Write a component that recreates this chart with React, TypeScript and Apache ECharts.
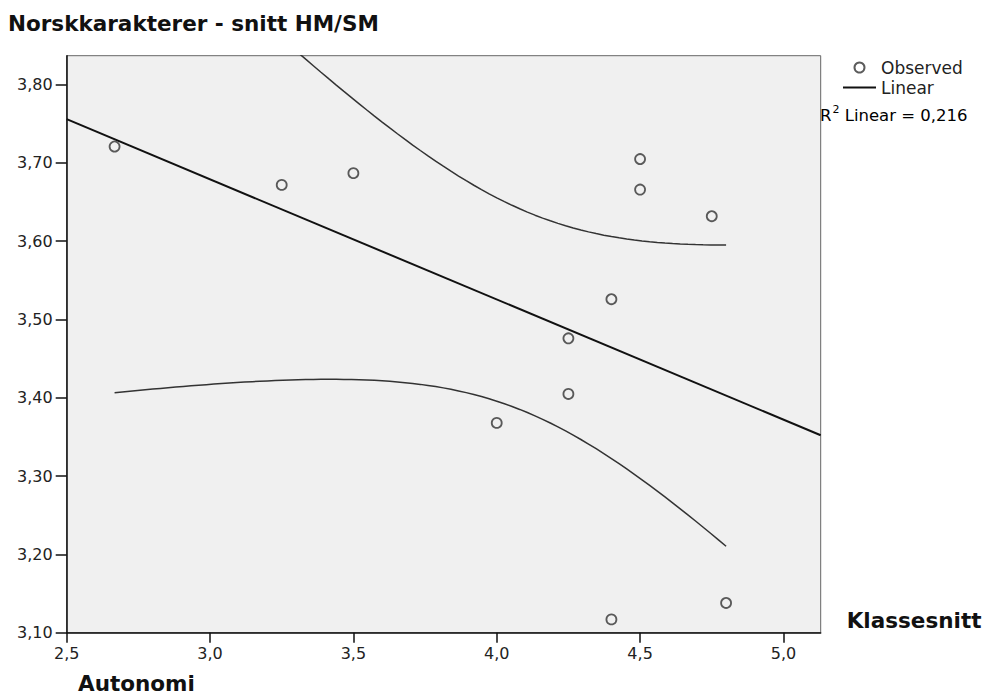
import { useEffect, useRef } from 'react';
import * as echarts from 'echarts';

// Klassesnitt: autonomi (x) mot norskkarakter, snitt HM/SM (y)
const autonomi = [2.667, 3.25, 3.5, 4.5, 4.5, 4.75, 4.4, 4.25, 4.25, 4.0, 4.4, 4.8];
const norskSnitt = [3.721, 3.672, 3.687, 3.705, 3.666, 3.632, 3.526, 3.476, 3.405, 3.368, 3.117, 3.138];

const xTicks = [2.5, 3.0, 3.5, 4.0, 4.5, 5.0];
const yTicks = [3.1, 3.2, 3.3, 3.4, 3.5, 3.6, 3.7, 3.8];
const xRange = [2.5, 5.13];
const yRange = [3.1, 3.837];

const rSquaredLinear = 0.216;
const tCrit = 2.228; // t(0.975) with n - 2 = 10 degrees of freedom
const bandSteps = 80;

const FONT = '"DejaVu Sans", Verdana, sans-serif';

const comma = (v: number, d: number) => v.toFixed(d).replace('.', ',');

// Least-squares fit and 95% confidence band for the mean
function linearFit(xs: number[], ys: number[]) {
  const n = xs.length;
  const mx = xs.reduce((a, b) => a + b, 0) / n;
  const my = ys.reduce((a, b) => a + b, 0) / n;
  let sxx = 0;
  let sxy = 0;
  for (let i = 0; i < n; i++) {
    sxx += (xs[i] - mx) ** 2;
    sxy += (xs[i] - mx) * (ys[i] - my);
  }
  const slope = sxy / sxx;
  const intercept = my - slope * mx;
  let sse = 0;
  for (let i = 0; i < n; i++) sse += (ys[i] - (intercept + slope * xs[i])) ** 2;
  const s = Math.sqrt(sse / (n - 2));
  const predict = (x: number) => intercept + slope * x;
  const halfWidth = (x: number) => tCrit * s * Math.sqrt(1 / n + (x - mx) ** 2 / sxx);
  return { predict, halfWidth };
}

export default function App() {
  const ref = useRef<HTMLDivElement>(null);

  useEffect(() => {
    if (!ref.current) return;
    const chart = echarts.init(ref.current, undefined, { renderer: 'svg' });
    const fit = linearFit(autonomi, norskSnitt);

    const fitLine = xRange.map((x) => [x, fit.predict(x)]);
    const xMin = Math.min(...autonomi);
    const xMax = Math.max(...autonomi);
    const upper: number[][] = [];
    const lower: number[][] = [];
    for (let i = 0; i <= bandSteps; i++) {
      const x = xMin + ((xMax - xMin) * i) / bandSteps;
      const y = fit.predict(x);
      const h = fit.halfWidth(x);
      upper.push([x, y + h]);
      lower.push([x, y - h]);
    }

    const bandStyle = { color: '#333', width: 1.5 };

    chart.setOption({
      animation: false,
      backgroundColor: '#fff',
      title: {
        text: 'Norskkarakterer - snitt HM/SM',
        left: 3,
        top: 7,
        textStyle: { fontFamily: FONT, fontWeight: 'bold', fontSize: 21.5, color: '#111' },
      },
      legend: {
        orient: 'vertical',
        left: 842,
        top: 59,
        padding: 0,
        itemWidth: 33,
        itemHeight: 10,
        itemGap: 3,
        textStyle: { fontFamily: FONT, fontSize: 17, color: '#222' },
        data: [
          { name: 'Observed', icon: 'circle' },
          { name: 'Linear', itemStyle: { color: 'rgba(0,0,0,0)', borderWidth: 0 } },
        ],
      },
      grid: {
        left: 66.7,
        right: 165.3,
        top: 55.7,
        bottom: 63.3,
        show: true,
        backgroundColor: '#f0f0f0',
        borderColor: '#666',
        borderWidth: 1,
      },
      xAxis: {
        type: 'value',
        min: xRange[0],
        max: xRange[1],
        name: 'Klassesnitt',
        nameLocation: 'end',
        nameGap: 26,
        nameTextStyle: {
          fontFamily: FONT,
          fontWeight: 'bold',
          fontSize: 21.5,
          color: '#111',
          verticalAlign: 'bottom',
          padding: [0, 0, 1, 0],
        },
        axisLine: { show: true, lineStyle: { color: '#111', width: 1.5 } },
        axisTick: { show: true, length: 10, customValues: xTicks, lineStyle: { color: '#111', width: 1.5 } },
        axisLabel: {
          customValues: xTicks,
          margin: 13,
          fontFamily: FONT,
          fontSize: 16,
          color: '#222',
          formatter: (v: number) => comma(v, 1),
        },
        splitLine: { show: false },
      },
      yAxis: {
        type: 'value',
        min: yRange[0],
        max: yRange[1],
        axisLine: { show: true, lineStyle: { color: '#111', width: 1.5 } },
        axisTick: { show: true, length: 11, customValues: yTicks, lineStyle: { color: '#111', width: 1.5 } },
        axisLabel: {
          customValues: yTicks,
          margin: 14,
          fontFamily: FONT,
          fontSize: 16,
          color: '#222',
          formatter: (v: number) => comma(v, 2),
        },
        splitLine: { show: false },
      },
      graphic: [
        {
          type: 'text',
          left: 78,
          top: 672,
          style: {
            text: 'Autonomi',
            font: `bold 21.5px ${FONT}`,
            fill: '#111',
          },
        },
        {
          type: 'text',
          left: 820,
          top: 104,
          style: {
            text: `{r|R}{s|2}{t| Linear = ${comma(rSquaredLinear, 3)}}`,
            rich: {
              r: { fontFamily: FONT, fontSize: 16.5, color: '#222', lineHeight: 20, verticalAlign: 'bottom' },
              s: { fontFamily: FONT, fontSize: 11, color: '#222', lineHeight: 20, verticalAlign: 'top', padding: [0, 0, 0, 1] },
              t: { fontFamily: FONT, fontSize: 16.5, color: '#222', lineHeight: 20, verticalAlign: 'bottom' },
            },
          },
        },
      ],
      series: [
        {
          name: 'Linear',
          type: 'line',
          data: fitLine,
          symbol: 'none',
          itemStyle: { color: '#111' },
          lineStyle: { color: '#111', width: 2 },
          z: 3,
        },
        {
          name: 'Øvre 95 %',
          type: 'line',
          data: upper,
          symbol: 'none',
          clip: true,
          lineStyle: bandStyle,
          z: 2,
        },
        {
          name: 'Nedre 95 %',
          type: 'line',
          data: lower,
          symbol: 'none',
          clip: true,
          lineStyle: bandStyle,
          z: 2,
        },
        {
          name: 'Observed',
          type: 'scatter',
          data: autonomi.map((x, i) => [x, norskSnitt[i]]),
          symbol: 'circle',
          symbolSize: 10,
          itemStyle: { color: 'rgba(0,0,0,0)', borderColor: '#333', borderWidth: 1.8 },
          z: 4,
        },
      ],
    });

    return () => chart.dispose();
  }, []);

  return <div ref={ref} style={{ width: 986, height: 696, position: 'absolute', left: 0, top: 0 }} />;
}
